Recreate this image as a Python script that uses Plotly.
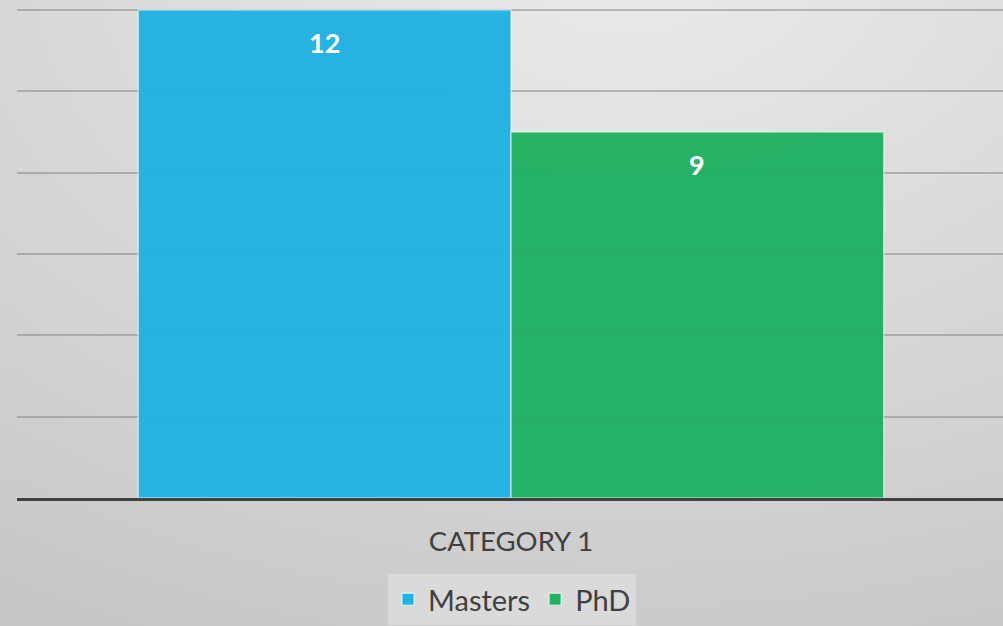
import base64, struct, zlib
import numpy as np
import plotly.graph_objects as go

categories = ["CATEGORY 1"]
series_names = ["Masters", "PhD"]
masters = [12]
phd = [9]
series_values = [masters, phd]
colors = ["#21b2e3", "#21b163"]
y_ticks = [0, 2, 4, 6, 8, 10, 12]

W, H = 1003, 626
ML, MT, MR, MB = 17, 9, 0, 128
BARGAP = 0.2424
YMAX = 12.025


def gradient_png(w, h):
    yy, xx = np.mgrid[0:h, 0:w].astype(float)
    cx, cy = 0.62 * w, -0.05 * h
    d = np.sqrt(((xx - cx) / w) ** 2 + ((yy - cy) / h) ** 2)
    d = d / d.max()
    v = 235 - 37 * d
    arr = np.clip(v, 0, 255).astype(np.uint8)
    arr = np.stack([arr, arr, arr], axis=-1)
    raw = b"".join(b"\x00" + arr[r].tobytes() for r in range(h))

    def chunk(tag, data):
        return (struct.pack(">I", len(data)) + tag + data
                + struct.pack(">I", zlib.crc32(tag + data) & 0xffffffff))

    png = (b"\x89PNG\r\n\x1a\n"
           + chunk(b"IHDR", struct.pack(">IIBBBBB", w, h, 8, 2, 0, 0, 0))
           + chunk(b"IDAT", zlib.compress(raw, 9))
           + chunk(b"IEND", b""))
    return "data:image/png;base64," + base64.b64encode(png).decode()


fig = go.Figure()
for name, vals, col in zip(series_names, series_values, colors):
    fig.add_trace(go.Bar(
        name=name, x=categories, y=vals,
        marker=dict(color=col, opacity=0.97,
                    line=dict(color="rgba(255,255,255,0.55)", width=1.5)),
    ))

# data labels (white bold) inside the top of each bar
XMIN, XMAX = -0.502, 0.5
n = len(series_names)
group_w = 1 - BARGAP
for i, vals in enumerate(series_values):
    offset = -group_w / 2 + group_w / n * (i + 0.5)
    for ci, v in enumerate(vals):
        fig.add_annotation(
            x=ci + offset, y=v, xref="x", yref="y", text=f"<b>{v}</b>",
            showarrow=False, yshift=-32,
            font=dict(family="Lato, Open Sans, sans-serif", size=27, color="white"),
        )

pw = W - ML - MR
ph = H - MT - MB
fig.add_layout_image(dict(
    source=gradient_png(200, 160), xref="paper", yref="paper",
    x=-ML / pw, y=1 + MT / ph, sizex=W / pw, sizey=H / ph,
    xanchor="left", yanchor="top", sizing="stretch", layer="below",
))

fig.update_layout(
    width=W, height=H,
    margin=dict(l=ML, r=MR, t=MT, b=MB, pad=0),
    barmode="group", bargap=BARGAP, bargroupgap=0,
    paper_bgcolor="#d2d2d2", plot_bgcolor="rgba(0,0,0,0)",
    font=dict(family="Lato, Open Sans, sans-serif", color="#404040"),
    showlegend=True,
    legend=dict(
        orientation="h", x=(512 - ML) / pw, xanchor="center",
        y=-(574 - 498) / ph, yanchor="top",
        bgcolor="#dadada",
        font=dict(size=29, color="#404040"),
        itemwidth=30, tracegroupgap=0,
    ),
    xaxis=dict(
        type="category", showgrid=False, zeroline=False,
        showline=True, linecolor="#404040", linewidth=3,
        ticks="", tickfont=dict(size=27.5, color="#404040"),
        ticklabelstandoff=17, range=[XMIN, XMAX],
    ),
    yaxis=dict(
        range=[0, YMAX], tickvals=y_ticks, showticklabels=False,
        showgrid=True, gridcolor="rgba(120,120,120,0.45)", gridwidth=1.5,
        zeroline=False, showline=False,
    ),
)

fig.write_html(
    "out.html",
    config={"displayModeBar": False},
    post_script="document.body.style.margin='0';document.body.style.overflow='hidden';",
)
